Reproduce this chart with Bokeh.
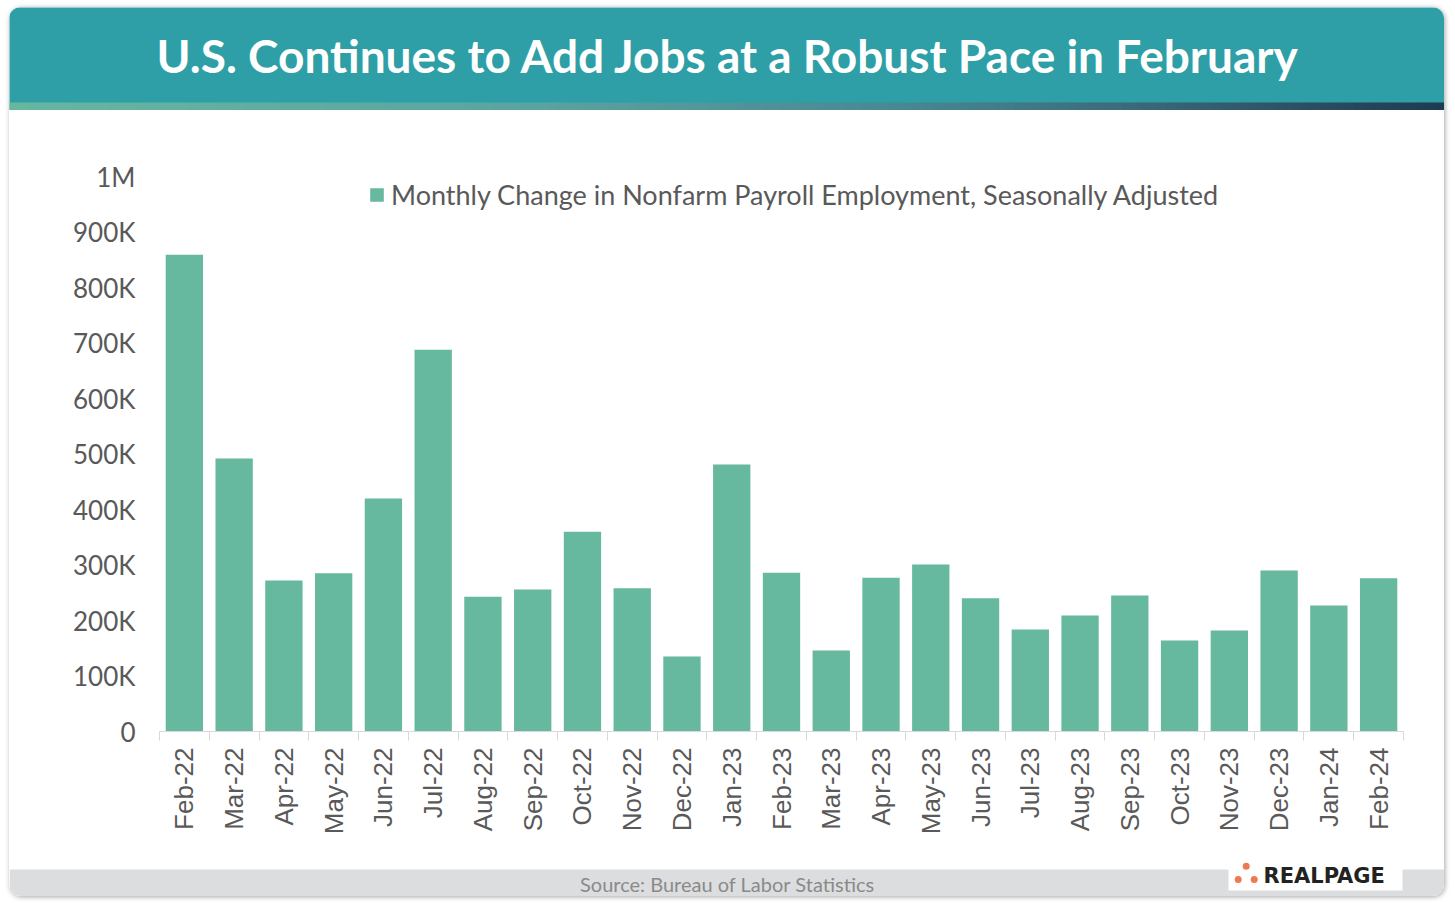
import math
from bokeh.plotting import figure
from bokeh.models import Range1d, FixedTicker, Legend, LegendItem, ColumnDataSource, Plot
from bokeh.layouts import column
from bokeh.embed import file_html
from bokeh.resources import INLINE
from bokeh.core.properties import value

# ---------------- data ----------------
title_text = "U.S. Continues to Add Jobs at a Robust Pace in February"
series_name = "Monthly Change in Nonfarm Payroll Employment, Seasonally Adjusted"
source_text = "Source: Bureau of Labor Statistics"
logo_text = "REALPAGE"

months = ["Feb-22", "Mar-22", "Apr-22", "May-22", "Jun-22", "Jul-22", "Aug-22",
          "Sep-22", "Oct-22", "Nov-22", "Dec-22", "Jan-23", "Feb-23", "Mar-23",
          "Apr-23", "May-23", "Jun-23", "Jul-23", "Aug-23", "Sep-23", "Oct-23",
          "Nov-23", "Dec-23", "Jan-24", "Feb-24"]
payroll_change = [859000, 492000, 272000, 285000, 420000, 688000, 243000,
                  256000, 360000, 258000, 135000, 481000, 286000, 146000,
                  277000, 301000, 240000, 184000, 209000, 245000, 164000,
                  182000, 290000, 227000, 276000]
y_ticks = [0, 100000, 200000, 300000, 400000, 500000, 600000, 700000, 800000, 900000, 1000000]
y_tick_labels = ["0", "100K", "200K", "300K", "400K", "500K", "600K", "700K", "800K", "900K", "1M"]

# ---------------- styles ----------------
W = 1435
TEAL = "#2E9FA6"
BAR = "#66B89E"
TXT = "#595959"
AXIS = "#D9D9D9"
HAS_FRAME_ALIGN = "frame_align" in Plot.properties()


def blank(fig):
    fig.grid.visible = False
    fig.outline_line_color = None
    if HAS_FRAME_ALIGN:
        fig.frame_align = False


# ---------------- header ----------------
HH = 103
h = figure(width=W, height=HH, x_range=Range1d(0, W), y_range=Range1d(0, HH),
           min_border=0, title=None, toolbar_location=None, output_backend="svg",
           x_axis_location=None, y_axis_location=None)
blank(h)
h.background_fill_color = TEAL
h.border_fill_color = TEAL

stops = [(0.0, (102, 183, 160)), (0.35, (90, 165, 162)), (0.62, (72, 136, 148)),
         (0.77, (60, 108, 125)), (1.0, (31, 57, 82))]


def grad(t):
    for (t0, c0), (t1, c1) in zip(stops[:-1], stops[1:]):
        if t <= t1:
            f = (t - t0) / (t1 - t0)
            return "#%02x%02x%02x" % tuple(int(round(a + (b - a) * f)) for a, b in zip(c0, c1))
    return "#%02x%02x%02x" % stops[-1][1]


n = 160
lefts = [W * i / n for i in range(n)]
rights = [W * (i + 1) / n + 0.6 for i in range(n)]
cols = [grad((i + 0.5) / n) for i in range(n)]
h.quad(left=lefts, right=rights, bottom=0, top=8, color=cols, line_width=0)
h.text(x=[719], y=[55], text=[title_text], text_font=value("Lato"), text_font_style="bold",
       text_font_size="46px", text_color="white", text_align="center", text_baseline="middle")

# ---------------- main chart ----------------
MH = 750
p = figure(width=W, height=MH, x_range=Range1d(-0.5, len(months) - 0.5),
           y_range=Range1d(0, 1000000), title=None, toolbar_location=None,
           output_backend="svg", min_border_left=150, min_border_right=41,
           min_border_top=66, min_border_bottom=129)
blank(p)
p.background_fill_color = "white"
p.border_fill_color = "white"

xs = list(range(len(months)))
src = ColumnDataSource(dict(x=xs, top=payroll_change, month=months))
r = p.vbar(x="x", top="top", width=0.75, source=src, color=BAR, line_width=0)

p.xaxis.ticker = FixedTicker(ticks=xs, minor_ticks=[i - 0.5 for i in range(len(months) + 1)])
p.xaxis.major_label_overrides = {i: m for i, m in enumerate(months)}
p.xaxis.major_tick_line_color = None
p.xaxis.major_tick_out = 0
p.xaxis.major_tick_in = 0
p.xaxis.minor_tick_line_color = AXIS
p.xaxis.minor_tick_out = 9
p.xaxis.minor_tick_in = 0
p.xaxis.axis_line_color = AXIS
p.xaxis.major_label_orientation = math.pi / 2
p.xaxis.major_label_text_font = "Liberation Sans"
p.xaxis.major_label_text_font_size = "26px"
p.xaxis.major_label_text_color = TXT
p.xaxis.major_label_standoff = 7

p.yaxis.ticker = FixedTicker(ticks=y_ticks)
p.yaxis.major_label_overrides = {t: l for t, l in zip(y_ticks, y_tick_labels)}
p.yaxis.axis_line_color = None
p.yaxis.major_tick_line_color = None
p.yaxis.minor_tick_line_color = None
p.yaxis.major_tick_out = 0
p.yaxis.major_label_text_font = "Lato"
p.yaxis.major_label_text_font_size = "26px"
p.yaxis.major_label_text_color = TXT
p.yaxis.major_label_standoff = 24

legend = Legend(items=[LegendItem(label=series_name, renderers=[r])], location=(209, 520),
                border_line_color=None, background_fill_alpha=0, padding=0, margin=0,
                glyph_width=17, glyph_height=17, label_standoff=6, label_height=20,
                label_text_font="Lato", label_text_font_size="27px", label_text_color=TXT)
p.add_layout(legend)

# ---------------- footer ----------------
FH = 36
f = figure(width=W, height=FH, x_range=Range1d(0, W), y_range=Range1d(0, FH),
           min_border=0, title=None, toolbar_location=None, output_backend="svg",
           x_axis_location=None, y_axis_location=None)
blank(f)
f.background_fill_color = "white"
f.border_fill_color = "white"
f.quad(left=[0], right=[W], bottom=[0], top=[27], color="#DCDDDF", line_width=0)
f.quad(left=[1219], right=[1393], bottom=[6], top=[36], color="white", line_width=0)
f.scatter(x=[1236.7, 1228.7, 1244.7], y=[30.3, 17, 17], size=7, color="#EE7A55", line_width=0)
f.text(x=[1254], y=[21], text=[logo_text], text_font=value("DejaVu Sans"), text_font_style="bold",
       text_font_size="21px", text_color="#222222", text_align="left", text_baseline="middle")
f.text(x=[718], y=[13], text=[source_text], text_font=value("Lato"), text_font_size="20px",
       text_color="#8A8A8A", text_align="center", text_baseline="middle")

card = column(h, p, f, spacing=0,
              styles={"border-radius": "12px", "overflow": "hidden",
                      "margin-left": "9px", "margin-top": "7px",
                      "box-shadow": "1px 1px 5px rgba(0,0,0,0.35)"})

open("out.html", "w").write(file_html(card, INLINE))
